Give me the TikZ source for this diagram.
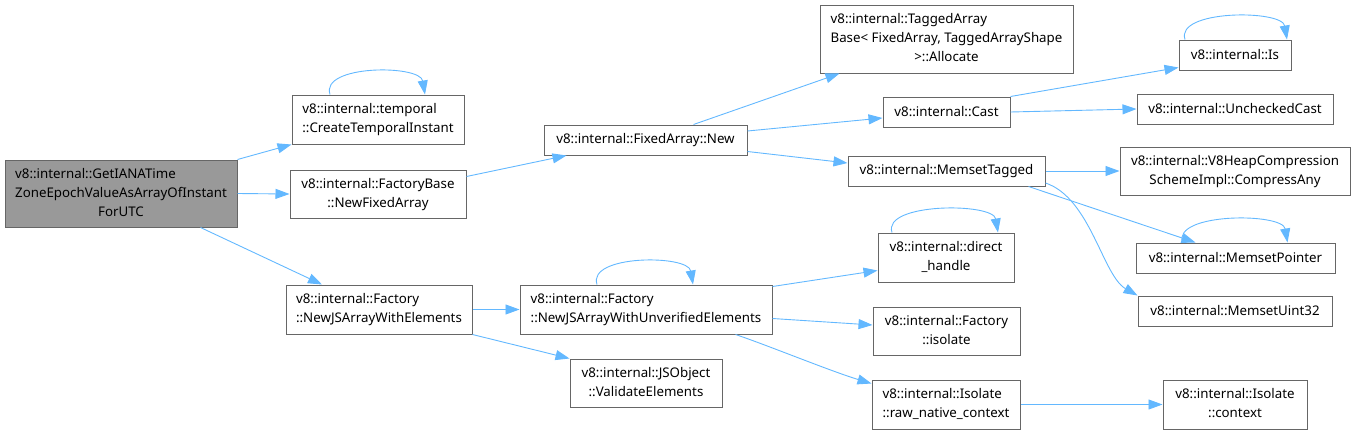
\documentclass[tikz,border=0pt]{standalone}
\usepackage{fontspec}
\setmainfont{Noto Sans}
\usepackage{tikz}
\usetikzlibrary{arrows.meta}
\definecolor{edgeblue}{RGB}{99,184,255}
\definecolor{boxline}{RGB}{102,102,102}
\definecolor{rootgray}{RGB}{153,153,153}
\newcommand{\fnlabel}[2]{\begin{tabular}{@{}l@{}}#1\\\multicolumn{1}{@{}c@{}}{#2}\end{tabular}}

\begin{document}
\begin{tikzpicture}[x=1pt, y=-1pt,
  fn/.style={draw=boxline, line width=1pt, fill=white, inner sep=0pt, font=\fontsize{13.3}{19}\selectfont},
  call/.style={edgeblue, line width=0.9pt, -{Triangle[length=14pt,width=10pt]}}]
\useasboundingbox (0,0) rectangle (1355,434);

\node[fn, fill=rootgray, minimum width=232pt, minimum height=67pt] (root) at (121,193.5) {\fnlabel{v8::internal::GetIANATime\\ZoneEpochValueAsArrayOfInstant}{ForUTC}};

\node[fn, minimum width=172pt, minimum height=49pt] (temporal) at (378,119.5) {\fnlabel{v8::internal::temporal}{::CreateTemporalInstant}};
\node[fn, minimum width=176pt, minimum height=48pt] (fbase) at (378,194) {\fnlabel{v8::internal::FactoryBase}{::NewFixedArray}};
\node[fn, minimum width=186pt, minimum height=49pt] (jsarr) at (379,309.5) {\fnlabel{v8::internal::Factory}{::NewJSArrayWithElements}};

\node[fn, minimum width=203pt, minimum height=30pt] (fanew) at (645.5,140) {v8::internal::FixedArray::New};
\node[fn, minimum width=252pt, minimum height=49pt] (unverif) at (646,309.5) {\fnlabel{v8::internal::Factory}{::NewJSArrayWithUnverifiedElements}};
\node[fn, minimum width=152pt, minimum height=48pt] (validate) at (646,383) {\fnlabel{v8::internal::JSObject}{::ValidateElements}};

\node[fn, minimum width=253pt, minimum height=68pt] (tagged) at (946.5,39) {\fnlabel{v8::internal::TaggedArray\\Base< FixedArray, TaggedArrayShape}{>::Allocate}};
\node[fn, minimum width=127pt, minimum height=30pt] (cast) at (946.5,112) {v8::internal::Cast};
\node[fn, minimum width=197pt, minimum height=30pt] (mtagged) at (946.5,171) {v8::internal::MemsetTagged};
\node[fn, minimum width=136pt, minimum height=49pt] (dhandle) at (946,257.5) {\fnlabel{v8::internal::direct}{\_handle}};
\node[fn, minimum width=147pt, minimum height=48pt] (fisolate) at (946.5,331) {\fnlabel{v8::internal::Factory}{::isolate}};
\node[fn, minimum width=148pt, minimum height=49pt] (rawnat) at (946,404.5) {\fnlabel{v8::internal::Isolate}{::raw\_native\_context}};

\node[fn, minimum width=112pt, minimum height=30pt] (is) at (1235,55) {v8::internal::Is};
\node[fn, minimum width=196pt, minimum height=30pt] (unchecked) at (1235,109) {v8::internal::UncheckedCast};
\node[fn, minimum width=230pt, minimum height=48pt] (v8heap) at (1235,171) {\fnlabel{v8::internal::V8HeapCompression}{SchemeImpl::CompressAny}};
\node[fn, minimum width=199pt, minimum height=30pt] (mpointer) at (1235.5,258) {v8::internal::MemsetPointer};
\node[fn, minimum width=194pt, minimum height=30pt] (muint) at (1235,311) {v8::internal::MemsetUint32};
\node[fn, minimum width=144pt, minimum height=49pt] (icontext) at (1235,404.5) {\fnlabel{v8::internal::Isolate}{::context}};

\draw[call] (root.north east) -- (temporal.south west);
\draw[call] (root.east) -- (fbase.west);
\draw[call] ([xshift=-37pt]root.south east) -- ([xshift=-57pt]jsarr.north);
\draw[call] ([xshift=-48pt]temporal.north) .. controls +(-10,-30) and +(-5,-30) .. ([xshift=47pt]temporal.north);

\draw[call] ([yshift=-7pt]fbase.north east) -- ([xshift=23pt]fanew.south west);
\draw[call] ([xshift=-54pt]fanew.north east) -- ([xshift=20pt]tagged.south west);
\draw[call] ([yshift=9pt]fanew.east) -- ([yshift=-6pt]cast.west);
\draw[call] ([yshift=4pt]fanew.south east) -- ([yshift=8pt]mtagged.west);

\draw[call] (cast.north east) -- ([yshift=3pt]is.south west);
\draw[call] (cast.east) -- (unchecked.west);
\draw[call] ([xshift=-50pt]is.north) .. controls +(-10,-30) and +(-5,-30) .. ([xshift=52pt]is.north);

\draw[call] (mtagged.east) -- (v8heap.west);
\draw[call] ([xshift=-17pt]mtagged.south east) -- ([xshift=-40pt]mpointer.north);
\draw[call] ([yshift=-12pt]mtagged.east) .. controls +(45,15) and +(-35,-20) .. (muint.north west);
\draw[call] ([xshift=-53pt]mpointer.north) .. controls +(-10,-30) and +(-5,-30) .. ([xshift=52pt]mpointer.north);

\draw[call] (jsarr.east) -- (unverif.west);
\draw[call] (jsarr.south east) -- (validate.north west);
\draw[call] ([xshift=-49pt]unverif.north) .. controls +(-10,-30) and +(-5,-30) .. ([xshift=47pt]unverif.north);

\draw[call] ([yshift=-2pt]unverif.north east) -- ([yshift=12pt]dhandle.south west);
\draw[call] ([yshift=-9pt]unverif.east) -- ([yshift=6pt]fisolate.west);
\draw[call] ([xshift=-37pt]unverif.south east) .. controls +(30,10) and +(-40,-12) .. ([yshift=-4pt]rawnat.north west);
\draw[call] ([xshift=-54pt]dhandle.north) .. controls +(-10,-30) and +(-5,-30) .. ([xshift=52pt]dhandle.north);

\draw[call] (rawnat.east) -- (icontext.west);
\end{tikzpicture}
\end{document}
